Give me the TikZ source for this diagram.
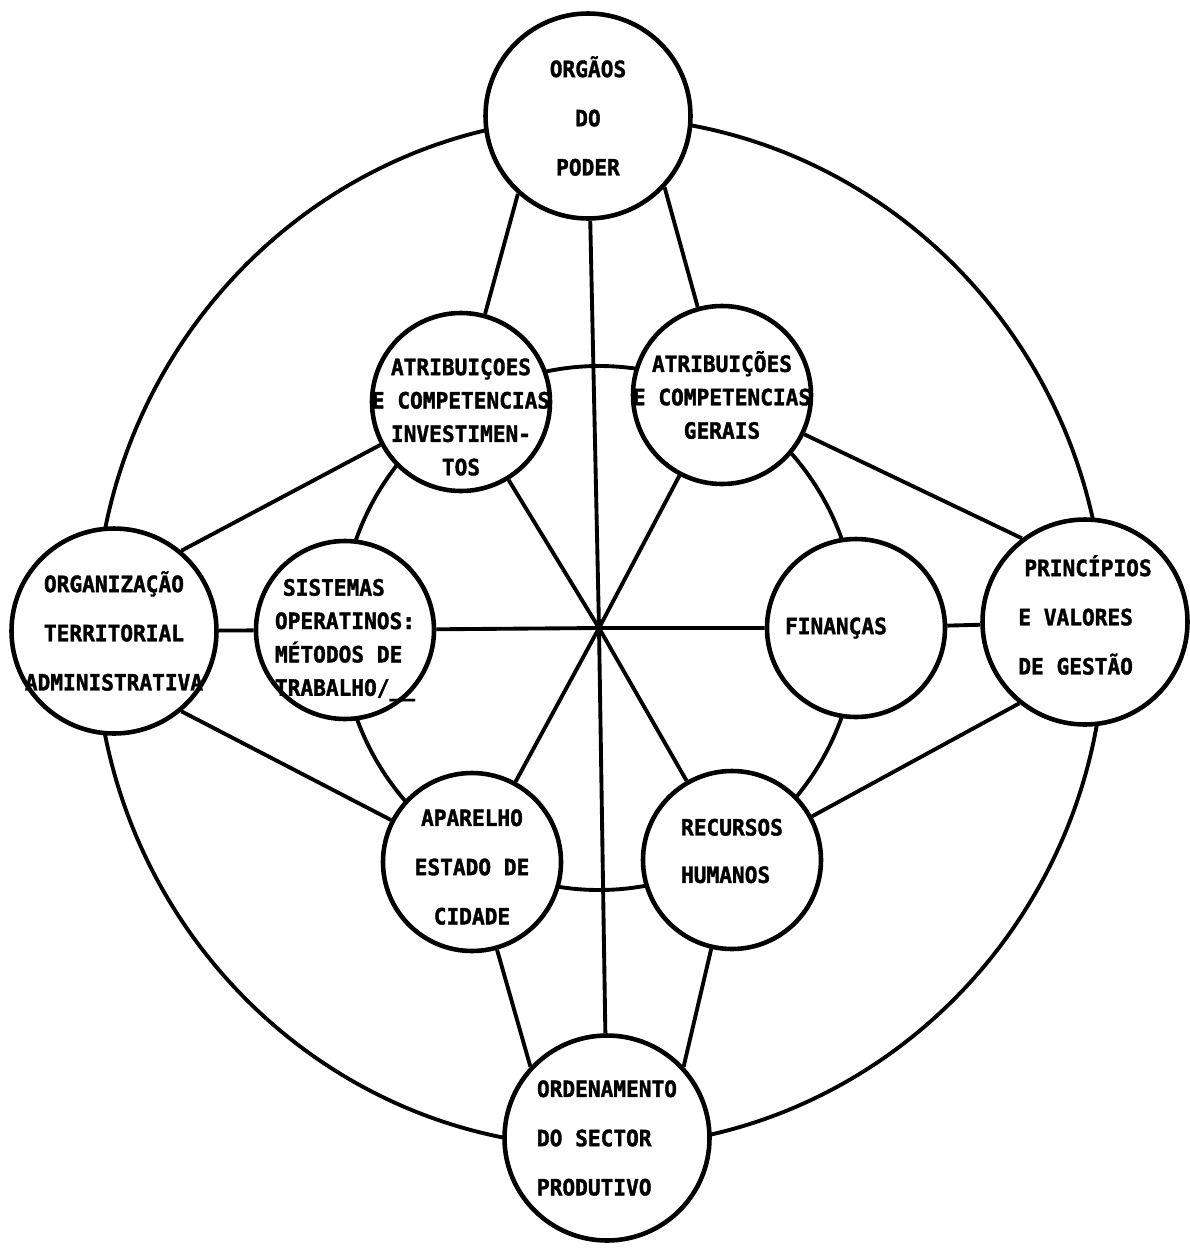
\documentclass[tikz,border=0pt]{standalone}
\usepackage{fontspec}
\newfontfamily\diagfont{DejaVu Sans Mono}[FakeStretch=0.94,BoldFeatures={FakeBold=1.6}]

\begin{document}
\begin{tikzpicture}[x=0.2mm,y=-0.2mm,
	ring/.style={line width=2.2pt},
	link/.style={line width=2.2pt},
	outernode/.style={circle,draw,line width=2.6pt,fill=white,minimum size=41mm,inner sep=0pt},
	innernode/.style={circle,draw,line width=2.6pt,fill=white,minimum size=35.6mm,inner sep=0pt},
	widetext/.style={inner sep=0pt,font=\diagfont\bfseries\fontsize{12.8}{28}\selectfont},
	tighttext/.style={inner sep=0pt,font=\diagfont\bfseries\fontsize{12.8}{19}\selectfont}]

		\useasboundingbox (0,0) rectangle (1190,1250);
		\fill [white] (0,0) rectangle (1190,1250);

		\coordinate (ctr) at (599,628);
		\draw [ring] (600,632) ellipse [x radius=505, y radius=515];
		\draw [ring] (599,628) ellipse [x radius=258, y radius=262];

		% outer ring
		\node (top) at (588,116) [outernode] {};
		\node (lft) at (114,631) [outernode] {};
		\node (rgt) at (1085,622) [outernode] {};
		\node (bot) at (607,1138) [outernode] {};

		\node (toptext) at (top) [widetext,align=center] {ORGÃOS\\DO\\PODER};
		\node (lfttext) at (lft) [widetext,align=center] {ORGANIZAÇÃO\\TERRITORIAL\\ADMINISTRATIVA};
		\node (rgttext) at ([yshift=1.4mm]rgt) [widetext,align=left] {\hspace*{1.2mm}PRINCÍPIOS\\E VALORES\\DE GESTÃO};
		\node (bottext) at (bot) [widetext,align=left] {ORDENAMENTO\\DO SECTOR\\PRODUTIVO};

		% inner ring
		\node (tl) at (461,402) [innernode] {};
		\node (tr) at (722,395) [innernode] {};
		\node (sys) at (345,630) [innernode] {};
		\node (fin) at (856,628) [innernode] {};
		\node (bl) at (472,862) [innernode] {};
		\node (br) at (732,860) [innernode] {};

		\node (tltext) at ([yshift=-3mm]tl) [tighttext,align=center] {ATRIBUIÇOES\\E COMPETENCIAS\\INVESTIMEN-\\TOS};
		\node (trtext) at (tr) [tighttext,align=center] {ATRIBUIÇÕES\\E COMPETENCIAS\\GERAIS};
		\node (systext) at ([yshift=-2mm]sys) [tighttext,align=left] {\hspace*{1.6mm}SISTEMAS\\OPERATINOS:\\MÉTODOS DE\\TRABALHO/\_\_};
		\node (fintext) at ([xshift=-4mm]fin) [widetext] {FINANÇAS};
		\node (bltext) at ([yshift=-1mm]bl) [widetext,align=center] {APARELHO\\ESTADO DE\\CIDADE};
		\node (brtext) at ([yshift=1.8mm]br) [widetext,align=left,font=\diagfont\bfseries\fontsize{12.8}{27}\selectfont] {RECURSOS\\HUMANOS};

		% spokes
		\draw [link] (top) -- (ctr) -- (bot);
		\draw [link] (sys) -- (ctr) -- (fin);
		\draw [link] (tl) -- (ctr) -- (br);
		\draw [link] (tr) -- (ctr) -- (bl);

		\draw [link] (top.228) -- (tl);
		\draw [link] (top.317) -- (tr);
		\draw [link] (bot.137) -- (bl);
		\draw [link] (bot.43) -- (br);

		\draw [link] (lft.50) -- (tl);
		\draw [link] (lft) -- (sys);
		\draw [link] (lft.310) -- (bl);
		\draw [link] (rgt.127) -- (tr);
		\draw [link] (rgt) -- (fin);
		\draw [link] (rgt.231) -- (br);

\end{tikzpicture}
\end{document}
